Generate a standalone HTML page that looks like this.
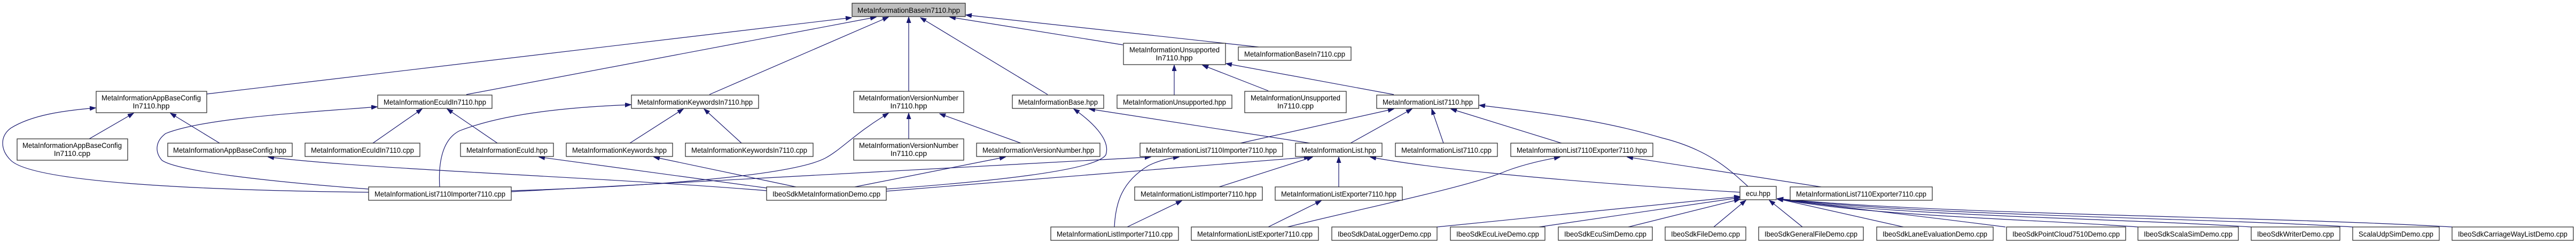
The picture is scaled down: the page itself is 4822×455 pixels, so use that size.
<!DOCTYPE html>
<html><head><meta charset="utf-8"><style>
html,body{margin:0;padding:0;background:#fff;}
svg{display:block;}
text{font-family:"Liberation Sans",sans-serif;font-size:14px;fill:#000;}
.n{fill:#fff;stroke:#222;stroke-width:1.2;}
.g{fill:#bfbfbf;stroke:#222;stroke-width:1.2;}
.e{fill:none;stroke:#191970;stroke-width:1.2;marker-end:url(#a);}
</style></head><body>
<svg width="4822" height="455" viewBox="0 0 4822 455" xmlns="http://www.w3.org/2000/svg">
<defs><marker id="a" markerUnits="userSpaceOnUse" markerWidth="12" markerHeight="9" refX="11" refY="4" orient="auto"><path d="M0,0 L11,4 L0,8 z" fill="#191970" stroke="#191970"/></marker></defs>

<!-- edges -->
<path class="e" d="M387,176 L1594,33"/>
<path class="e" d="M873,177 L1640,32"/>
<path class="e" d="M1328,177 L1663,32"/>
<path class="e" d="M1701,171 L1701,32"/>
<path class="e" d="M1961,177 L1723,33"/>
<path class="e" d="M2102,84 L1778,32"/>
<path class="e" d="M2356,88 L1808,28"/>
<path class="e" d="M2609,177 L2295,119"/>
<path class="e" d="M2198,178 L2198,122"/>
<path class="e" d="M2374,170 L2251,122"/>
<path class="e" d="M167,260 L250,212"/>
<path class="e" d="M411,268 L319,212"/>
<path class="e" d="M690,360 C350,356 60,340 20,300 C0,280 0,255 20,240 C60,215 120,207 179,202"/>
<path class="e" d="M698,268 L790,204"/>
<path class="e" d="M931,268 L837,204"/>
<path class="e" d="M690,354 C500,340 330,320 303,300 C290,285 290,265 310,250 C380,222 550,212 706,200"/>
<path class="e" d="M1179,268 L1279,204"/>
<path class="e" d="M1388,268 L1318,204"/>
<path class="e" d="M823,350 C820,300 830,260 860,245 C950,210 1080,200 1181,196"/>
<path class="e" d="M1435,352 L1009,294"/>
<path class="e" d="M1490,350 L1224,294"/>
<path class="e" d="M1435,357 C1100,330 700,318 502,294"/>
<path class="e" d="M1701,260 L1701,212"/>
<path class="e" d="M1911,268 L1759,213"/>
<path class="e" d="M957,357 C1200,350 1480,330 1545,296 C1575,280 1600,250 1663,212"/>
<path class="e" d="M1600,350 L1882,294"/>
<path class="e" d="M1659,354 C1850,340 2050,320 2070,290 C2080,260 2040,225 2010,204"/>
<path class="e" d="M2452,268 L2039,204"/>
<path class="e" d="M2322,268 L2609,204"/>
<path class="e" d="M2528,268 L2643,204"/>
<path class="e" d="M2702,268 L2680,204"/>
<path class="e" d="M2923,268 L2716,204"/>
<path class="e" d="M3273,350 C3240,320 3200,280 3110,258 C3000,225 2880,210 2769,197"/>
<path class="e" d="M957,359 L2154,294"/>
<path class="e" d="M2086,425 C2088,380 2100,340 2150,310 C2170,300 2190,296 2207,294"/>
<path class="e" d="M1659,358 L2452,294"/>
<path class="e" d="M2282,350 L2457,294"/>
<path class="e" d="M2506,350 L2506,294"/>
<path class="e" d="M3258,360 C3000,345 2700,320 2565,294"/>
<path class="e" d="M2110,425 L2212,376"/>
<path class="e" d="M2374,425 L2473,376"/>
<path class="e" d="M2410,425 C2550,390 2750,350 2820,320 C2860,305 2900,298 2920,294"/>
<path class="e" d="M3409,350 L3046,294"/>
<path class="e" d="M2690,425 L3257,368"/>
<path class="e" d="M2881,425 L3257,370"/>
<path class="e" d="M3048,425 L3257,373"/>
<path class="e" d="M3208,425 L3268,375"/>
<path class="e" d="M3374,425 L3312,375"/>
<path class="e" d="M3563,425 L3327,372"/>
<path class="e" d="M3754,425 C3600,405 3420,385 3327,373"/>
<path class="e" d="M4002,425 C3800,410 3500,405 3327,372"/>
<path class="e" d="M4214,425 C3950,408 3550,405 3327,372"/>
<path class="e" d="M4404,425 C4100,407 3600,404 3327,372"/>
<path class="e" d="M4590,425 C4250,405 3650,403 3327,372"/>

<!-- nodes -->
<rect class="g" x="1595" y="6" width="212" height="25"/><text x="1605" y="24" textLength="192" lengthAdjust="spacingAndGlyphs">MetaInformationBaseIn7110.hpp</text>
<rect class="n" x="180" y="171" width="207" height="40"/><text x="190" y="188" textLength="186" lengthAdjust="spacingAndGlyphs">MetaInformationAppBaseConfig</text><text x="283" y="203" text-anchor="middle">In7110.hpp</text>
<rect class="n" x="32" y="260" width="207" height="40"/><text x="42" y="277" textLength="186" lengthAdjust="spacingAndGlyphs">MetaInformationAppBaseConfig</text><text x="135" y="292" text-anchor="middle">In7110.cpp</text>
<rect class="n" x="314" y="268" width="233" height="25"/><text x="324" y="286" textLength="212" lengthAdjust="spacingAndGlyphs">MetaInformationAppBaseConfig.hpp</text>
<rect class="n" x="571" y="268" width="215" height="25"/><text x="582" y="286" textLength="193" lengthAdjust="spacingAndGlyphs">MetaInformationEcuIdIn7110.cpp</text>
<rect class="n" x="707" y="178" width="214" height="25"/><text x="718" y="196" textLength="192" lengthAdjust="spacingAndGlyphs">MetaInformationEcuIdIn7110.hpp</text>
<rect class="n" x="690" y="350" width="267" height="25"/><text x="701" y="368" textLength="245" lengthAdjust="spacingAndGlyphs">MetaInformationList7110Importer7110.cpp</text>
<rect class="n" x="1182" y="178" width="238" height="25"/><text x="1193" y="196" textLength="216" lengthAdjust="spacingAndGlyphs">MetaInformationKeywordsIn7110.hpp</text>
<rect class="n" x="862" y="268" width="174" height="25"/><text x="873" y="286" textLength="152" lengthAdjust="spacingAndGlyphs">MetaInformationEcuId.hpp</text>
<rect class="n" x="1060" y="268" width="199" height="25"/><text x="1071" y="286" textLength="177" lengthAdjust="spacingAndGlyphs">MetaInformationKeywords.hpp</text>
<rect class="n" x="1283" y="268" width="239" height="25"/><text x="1294" y="286" textLength="217" lengthAdjust="spacingAndGlyphs">MetaInformationKeywordsIn7110.cpp</text>
<rect class="n" x="1435" y="350" width="224" height="25"/><text x="1446" y="368" textLength="202" lengthAdjust="spacingAndGlyphs">IbeoSdkMetaInformationDemo.cpp</text>
<rect class="n" x="1598" y="171" width="206" height="40"/><text x="1608" y="188" textLength="186" lengthAdjust="spacingAndGlyphs">MetaInformationVersionNumber</text><text x="1701" y="203" text-anchor="middle">In7110.hpp</text>
<rect class="n" x="1598" y="260" width="206" height="40"/><text x="1608" y="277" textLength="186" lengthAdjust="spacingAndGlyphs">MetaInformationVersionNumber</text><text x="1701" y="292" text-anchor="middle">In7110.cpp</text>
<rect class="n" x="1828" y="268" width="231" height="25"/><text x="1839" y="286" textLength="209" lengthAdjust="spacingAndGlyphs">MetaInformationVersionNumber.hpp</text>
<rect class="n" x="1895" y="178" width="171" height="25"/><text x="1906" y="196" textLength="149" lengthAdjust="spacingAndGlyphs">MetaInformationBase.hpp</text>
<rect class="n" x="2103" y="81" width="191" height="40"/><text x="2114" y="98" textLength="169" lengthAdjust="spacingAndGlyphs">MetaInformationUnsupported</text><text x="2198" y="113" text-anchor="middle">In7110.hpp</text>
<rect class="n" x="2318" y="88" width="211" height="25"/><text x="2329" y="106" textLength="189" lengthAdjust="spacingAndGlyphs">MetaInformationBaseIn7110.cpp</text>
<rect class="n" x="2091" y="178" width="215" height="25"/><text x="2102" y="196" textLength="193" lengthAdjust="spacingAndGlyphs">MetaInformationUnsupported.hpp</text>
<rect class="n" x="2330" y="171" width="190" height="40"/><text x="2341" y="188" textLength="168" lengthAdjust="spacingAndGlyphs">MetaInformationUnsupported</text><text x="2425" y="203" text-anchor="middle">In7110.cpp</text>
<rect class="n" x="2134" y="268" width="267" height="25"/><text x="2145" y="286" textLength="245" lengthAdjust="spacingAndGlyphs">MetaInformationList7110Importer7110.hpp</text>
<rect class="n" x="2124" y="350" width="239" height="25"/><text x="2135" y="368" textLength="217" lengthAdjust="spacingAndGlyphs">MetaInformationListImporter7110.hpp</text>
<rect class="n" x="1967" y="425" width="239" height="25"/><text x="1978" y="443" textLength="217" lengthAdjust="spacingAndGlyphs">MetaInformationListImporter7110.cpp</text>
<rect class="n" x="2230" y="425" width="238" height="25"/><text x="2241" y="443" textLength="216" lengthAdjust="spacingAndGlyphs">MetaInformationListExporter7110.cpp</text>
<rect class="n" x="2387" y="350" width="238" height="25"/><text x="2398" y="368" textLength="216" lengthAdjust="spacingAndGlyphs">MetaInformationListExporter7110.hpp</text>
<rect class="n" x="2577" y="178" width="191" height="25"/><text x="2588" y="196" textLength="169" lengthAdjust="spacingAndGlyphs">MetaInformationList7110.hpp</text>
<rect class="n" x="2425" y="268" width="162" height="25"/><text x="2436" y="286" textLength="140" lengthAdjust="spacingAndGlyphs">MetaInformationList.hpp</text>
<rect class="n" x="2612" y="268" width="191" height="25"/><text x="2623" y="286" textLength="169" lengthAdjust="spacingAndGlyphs">MetaInformationList7110.cpp</text>
<rect class="n" x="2828" y="268" width="266" height="25"/><text x="2839" y="286" textLength="244" lengthAdjust="spacingAndGlyphs">MetaInformationList7110Exporter7110.hpp</text>
<rect class="n" x="2493" y="425" width="197" height="25"/><text x="2504" y="443" textLength="175" lengthAdjust="spacingAndGlyphs">IbeoSdkDataLoggerDemo.cpp</text>
<rect class="n" x="2715" y="425" width="177" height="25"/><text x="2726" y="443" textLength="155" lengthAdjust="spacingAndGlyphs">IbeoSdkEcuLiveDemo.cpp</text>
<rect class="n" x="2917" y="425" width="176" height="25"/><text x="2928" y="443" textLength="154" lengthAdjust="spacingAndGlyphs">IbeoSdkEcuSimDemo.cpp</text>
<rect class="n" x="3117" y="425" width="151" height="25"/><text x="3128" y="443" textLength="129" lengthAdjust="spacingAndGlyphs">IbeoSdkFileDemo.cpp</text>
<rect class="n" x="3257" y="349" width="68" height="25"/><text x="3268" y="367" textLength="46" lengthAdjust="spacingAndGlyphs">ecu.hpp</text>
<rect class="n" x="3351" y="350" width="266" height="25"/><text x="3362" y="368" textLength="244" lengthAdjust="spacingAndGlyphs">MetaInformationList7110Exporter7110.cpp</text>
<rect class="n" x="3292" y="425" width="196" height="25"/><text x="3303" y="443" textLength="174" lengthAdjust="spacingAndGlyphs">IbeoSdkGeneralFileDemo.cpp</text>
<rect class="n" x="3513" y="425" width="218" height="25"/><text x="3524" y="443" textLength="196" lengthAdjust="spacingAndGlyphs">IbeoSdkLaneEvaluationDemo.cpp</text>
<rect class="n" x="3756" y="425" width="223" height="25"/><text x="3767" y="443" textLength="201" lengthAdjust="spacingAndGlyphs">IbeoSdkPointCloud7510Demo.cpp</text>
<rect class="n" x="4002" y="425" width="188" height="25"/><text x="4013" y="443" textLength="166" lengthAdjust="spacingAndGlyphs">IbeoSdkScalaSimDemo.cpp</text>
<rect class="n" x="4214" y="425" width="166" height="25"/><text x="4225" y="443" textLength="144" lengthAdjust="spacingAndGlyphs">IbeoSdkWriterDemo.cpp</text>
<rect class="n" x="4404" y="425" width="162" height="25"/><text x="4415" y="443" textLength="140" lengthAdjust="spacingAndGlyphs">ScalaUdpSimDemo.cpp</text>
<rect class="n" x="4590" y="425" width="227" height="25"/><text x="4601" y="443" textLength="205" lengthAdjust="spacingAndGlyphs">IbeoSdkCarriageWayListDemo.cpp</text>
</svg>
</body></html>
